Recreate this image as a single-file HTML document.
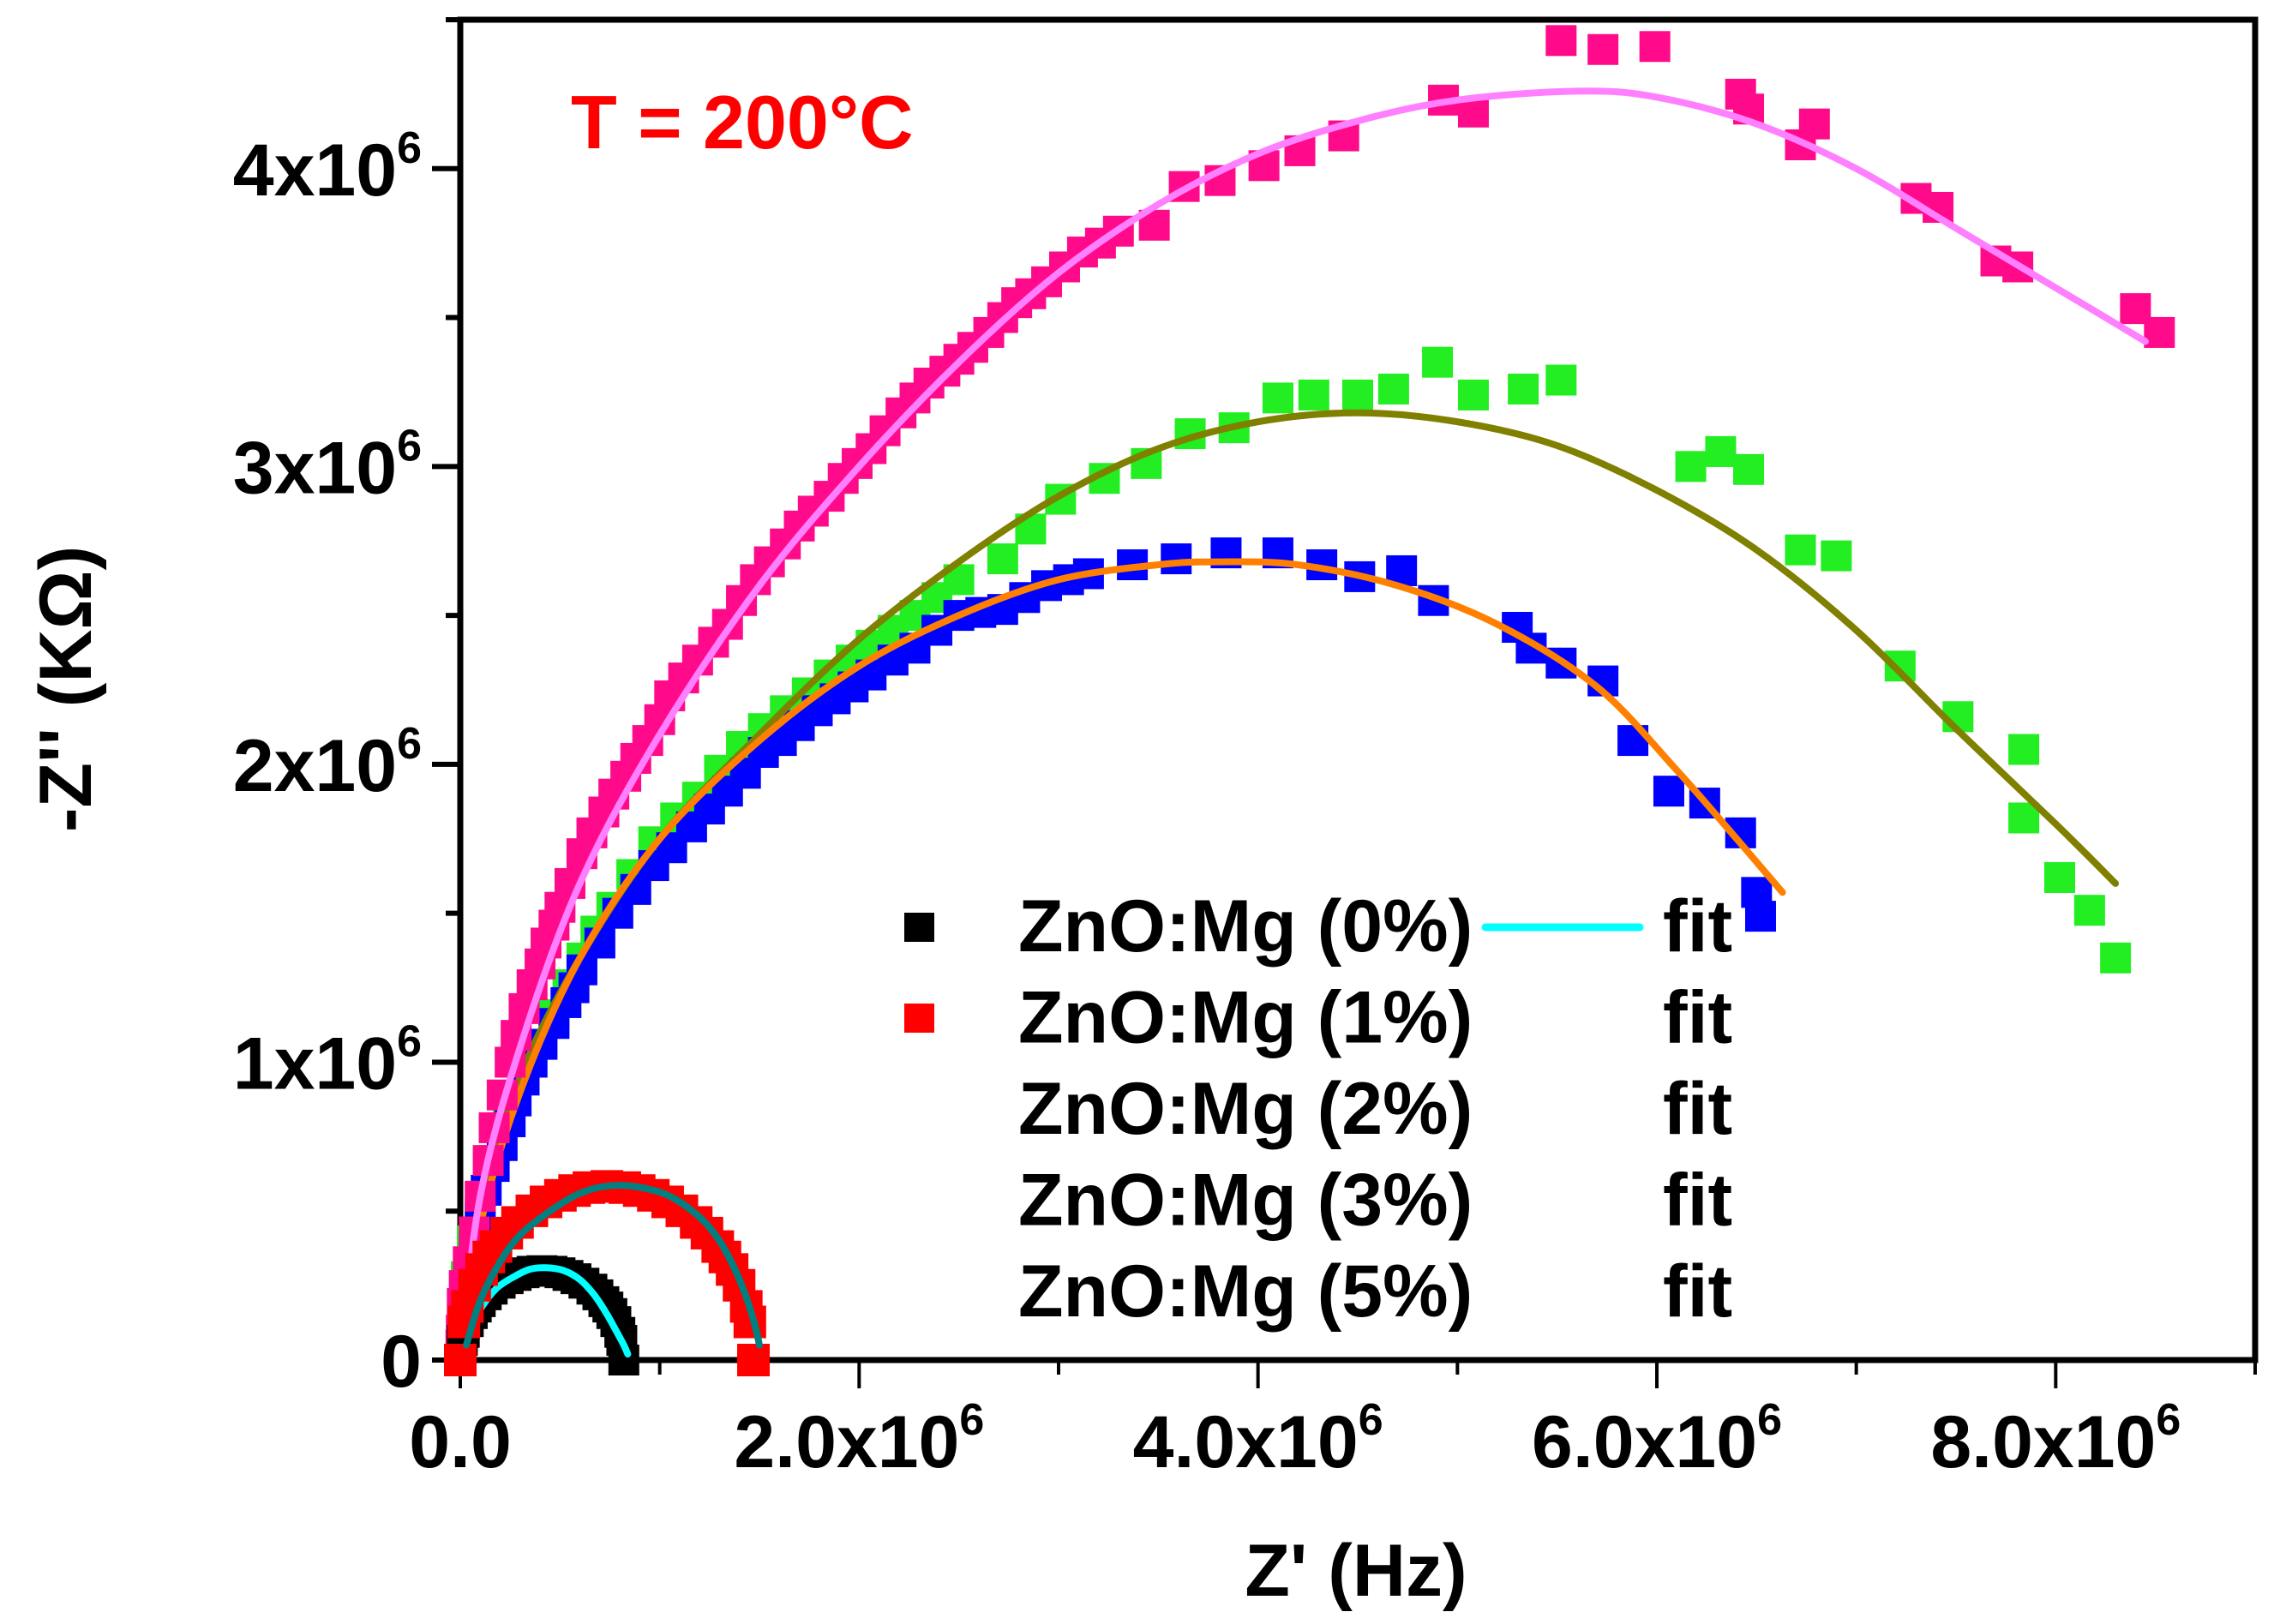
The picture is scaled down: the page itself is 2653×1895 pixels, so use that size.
<!DOCTYPE html>
<html><head><meta charset="utf-8"><style>
html,body{margin:0;padding:0;background:#fff;}
svg{display:block;font-family:"Liberation Sans",Arial,sans-serif;font-weight:bold;}
</style></head><body>
<svg id="chart" width="2653" height="1895" viewBox="0 0 2653 1895" xmlns="http://www.w3.org/2000/svg">
<g id="axes"></g>
<g id="series"></g>
<text x="666" y="173" font-size="88" fill="#ff0000">T = 200°C</text>
<text x="1582" y="1862" font-size="86" text-anchor="middle">Z' (Hz)</text>
<text x="0" y="0" font-size="86" text-anchor="middle" transform="translate(106,804) rotate(-90)">-Z'' (KΩ)</text>
<g id="legend"></g>
</svg>
<script>
const xTicks=[0,2,4,6,8];
const xTickLabels=["0.0","2.0x10","4.0x10","6.0x10","8.0x10"];
const yTicks=[0,1,2,3,4];
const yTickLabels=["0","1x10","2x10","3x10","4x10"];
const legendLabels=["ZnO:Mg (0%)","ZnO:Mg (1%)","ZnO:Mg (2%)","ZnO:Mg (3%)","ZnO:Mg (5%)"];

const black0X=[0,0.01,0.02,0.04,0.06,0.08,0.1,0.13,0.16,0.2,0.24,0.28,0.32,0.36,0.41,0.46,0.5,0.54,0.58,0.62,0.66,0.69,0.72,0.74,0.76,0.78,0.8,0.81,0.82];
const black0Y=[0,0.066,0.093,0.129,0.156,0.178,0.196,0.219,0.238,0.258,0.273,0.284,0.293,0.298,0.3,0.298,0.293,0.284,0.273,0.258,0.238,0.219,0.196,0.178,0.156,0.129,0.093,0.066,0];
const fit0X=[0.05,0.1,0.18,0.27,0.35,0.43,0.52,0.6,0.67,0.73,0.78,0.82,0.84];
const fit0Y=[0.1,0.17,0.24,0.28,0.305,0.31,0.3,0.27,0.22,0.16,0.1,0.05,0.02];

const red1X=[0,0.018,0.036,0.072,0.107,0.143,0.179,0.233,0.287,0.359,0.43,0.502,0.573,0.645,0.735,0.825,0.897,0.968,1.04,1.111,1.183,1.237,1.291,1.327,1.363,1.398,1.434,1.452,1.47];
const red1Y=[0,0.128,0.18,0.251,0.304,0.346,0.381,0.426,0.462,0.501,0.531,0.553,0.569,0.579,0.583,0.579,0.569,0.553,0.531,0.501,0.462,0.426,0.381,0.346,0.304,0.251,0.18,0.128,0];
const fit1X=[0.03,0.1,0.2,0.3,0.45,0.6,0.75,0.9,1.05,1.2,1.3,1.38,1.44,1.48,1.5];
const fit1Y=[0.05,0.2,0.33,0.42,0.5,0.56,0.585,0.58,0.55,0.48,0.4,0.3,0.2,0.11,0.05];

const green2X=[0.01,0.06,0.1,0.24,0.4,0.54,0.68,0.86,1.08,1.3,1.52,1.74,1.96,2.17,2.39,0.03,0.17,0.32,0.47,0.61,0.76,0.97,1.19,1.41,1.63,1.85,2.06,2.28,2.5,2.72,2.86,3.01,3.23,3.44,3.66,3.88,4.1,4.28,4.5,4.68,4.9,5.08,5.33,5.52,6.17,6.32,6.46,6.72,6.9,7.22,7.51,7.84,7.84,8.02,8.17,8.3];
const green2Y=[0.1,0.4,0.5,0.82,1.06,1.26,1.44,1.63,1.82,1.98,2.12,2.24,2.35,2.45,2.56,0.28,0.67,0.96,1.16,1.35,1.52,1.74,1.89,2.06,2.18,2.3,2.4,2.5,2.62,2.69,2.79,2.89,2.96,3.01,3.11,3.13,3.23,3.24,3.24,3.26,3.35,3.24,3.26,3.29,3.0,3.05,2.99,2.72,2.7,2.33,2.16,2.05,1.82,1.62,1.51,1.35];
const fit2X=[0,0.1,0.3,0.6,1.0,1.5,2.0,2.5,3.0,3.5,4.0,4.5,5.0,5.5,6.0,6.5,7.0,7.5,8.0,8.3];
const fit2Y=[0,0.5,0.95,1.35,1.75,2.1,2.42,2.68,2.9,3.06,3.15,3.18,3.15,3.07,2.92,2.72,2.45,2.12,1.8,1.6];

const blue3X=[0,0.01,0.02,0.05,0.07,0.13,0.17,0.25,0.28,0.36,0.41,0.53,0.57,0.7,0.88,1.06,1.25,1.43,1.61,1.79,1.97,2.17,2.39,2.61,2.83,3.05,0.03,0.1,0.21,0.32,0.47,0.61,0.79,0.97,1.16,1.34,1.52,1.7,1.88,2.06,2.28,2.5,2.72,2.94,3.15,3.37,3.59,3.84,4.1,4.32,4.51,4.72,4.88,5.3,5.37,5.52,5.73,5.88,6.06,6.24,6.42,6.5,6.52];
const blue3Y=[0,0.08,0.12,0.3,0.38,0.57,0.65,0.8,0.87,1.0,1.06,1.2,1.25,1.4,1.58,1.72,1.85,1.97,2.08,2.18,2.26,2.35,2.45,2.51,2.56,2.62,0.19,0.48,0.72,0.94,1.13,1.31,1.5,1.66,1.79,1.91,2.04,2.13,2.22,2.3,2.39,2.5,2.52,2.6,2.64,2.67,2.69,2.71,2.71,2.67,2.63,2.65,2.55,2.46,2.39,2.34,2.28,2.08,1.91,1.87,1.77,1.57,1.49];
const fit3X=[0,0.1,0.3,0.6,1.0,1.5,2.0,2.5,3.0,3.5,3.8,4.2,4.7,5.2,5.7,6.1,6.4,6.63];
const fit3Y=[0,0.45,0.9,1.35,1.75,2.08,2.33,2.5,2.62,2.67,2.68,2.67,2.6,2.47,2.26,1.98,1.75,1.57];

const pink5X=[0,0.003,0.005,0.02,0.04,0.1,0.17,0.25,0.32,0.4,0.47,0.55,0.66,0.77,0.88,1.0,1.12,1.27,1.41,1.55,1.7,1.85,1.99,2.13,2.28,2.43,2.57,2.72,2.86,3.03,3.21,0.01,0.07,0.14,0.21,0.28,0.36,0.43,0.5,0.61,0.72,0.83,0.94,1.05,1.19,1.34,1.48,1.63,1.77,1.92,2.06,2.21,2.35,2.5,2.65,2.79,2.94,3.12,3.3,3.48,3.63,3.81,4.03,4.21,4.43,4.93,5.08,5.52,5.73,5.99,6.42,6.46,6.72,6.79,7.3,7.41,7.7,7.81,8.4,8.52];
const pink5Y=[0,0.05,0.1,0.25,0.33,0.55,0.78,1.0,1.18,1.33,1.46,1.6,1.77,1.9,2.02,2.15,2.29,2.41,2.55,2.68,2.8,2.9,3.01,3.12,3.23,3.32,3.4,3.5,3.58,3.67,3.75,0.19,0.43,0.67,0.89,1.09,1.26,1.4,1.52,1.7,1.84,1.96,2.08,2.23,2.35,2.47,2.62,2.74,2.85,2.96,3.06,3.18,3.28,3.36,3.45,3.55,3.62,3.72,3.79,3.81,3.94,3.96,4.01,4.06,4.11,4.23,4.19,4.43,4.4,4.41,4.25,4.2,4.08,4.15,3.9,3.87,3.69,3.67,3.53,3.45];
const fit5X=[0,0.1,0.3,0.6,1.0,1.5,2.0,2.5,3.0,3.5,4.0,4.5,5.0,5.6,6.0,6.5,7.0,7.5,8.0,8.45];
const fit5Y=[0,0.55,1.05,1.6,2.1,2.6,3.0,3.35,3.65,3.88,4.05,4.16,4.23,4.26,4.24,4.15,4.0,3.8,3.6,3.42];

const NS="http://www.w3.org/2000/svg";
const L=537,R=2631,T=23,B=1587,XMIN=0,XMAX=9,YMIN=0,YMAX=4.5;
const sx=v=>L+(v-XMIN)/(XMAX-XMIN)*(R-L);
const sy=v=>B-(v-YMIN)/(YMAX-YMIN)*(B-T);
function mk(tag,attrs,parent){const e=document.createElementNS(NS,tag);for(const k in attrs)e.setAttribute(k,attrs[k]);parent.appendChild(e);return e;}
const axes=document.getElementById('axes');
const frame=mk('rect',{x:L,y:T,width:R-L,height:B-T,fill:'none',stroke:'#000','stroke-width':7},axes);


for(let v=0;v<=9;v+=1){const major=(v%2===0);
 const t=mk('line',{x1:sx(v),x2:sx(v),y1:B,y2:B+(major?33:17),stroke:'#000','stroke-width':4},axes);
 
 }
for(let v=0;v<=4.5;v+=0.5){const major=(v%1===0);
 const t=mk('line',{x1:L,x2:L-(major?33:17),y1:sy(v),y2:sy(v),stroke:'#000','stroke-width':6},axes);
 
 }
xTicks.forEach((v,i)=>{const t=mk('text',{x:sx(v),y:1712,'font-size':86,'text-anchor':'middle'},axes);
 t.textContent=xTickLabels[i];
 if(i>0){const s=mk('tspan',{dy:-38,'font-size':52},t);s.textContent='6';}
 
 });
yTicks.forEach((v,i)=>{const t=mk('text',{x:492,y:sy(v)+31,'font-size':86,'text-anchor':'end'},axes);
 t.textContent=yTickLabels[i];
 if(i>0){const s=mk('tspan',{dy:-38,'font-size':52},t);s.textContent='6';}
 
 });
const S=document.getElementById('series');
function markers(xs,ys,color,name,size){const g=mk('g',{fill:color},S);
 
 
 xs.forEach((x,i)=>{const r=mk('rect',{x:sx(x)-size/2,y:sy(ys[i])-size/2,width:size,height:size},g);
  
  });}
function line(xs,ys,color,name){
 const P=xs.map((x,i)=>[sx(x),sy(ys[i])]);
 let d='M'+P[0][0].toFixed(1)+','+P[0][1].toFixed(1);
 for(let i=0;i<P.length-1;i++){const p0=P[Math.max(0,i-1)],p1=P[i],p2=P[i+1],p3=P[Math.min(P.length-1,i+2)];
  const c1=[p1[0]+(p2[0]-p0[0])/6,p1[1]+(p2[1]-p0[1])/6],c2=[p2[0]-(p3[0]-p1[0])/6,p2[1]-(p3[1]-p1[1])/6];
  d+=' C'+c1.map(v=>v.toFixed(1)).join(',')+' '+c2.map(v=>v.toFixed(1)).join(',')+' '+p2[0].toFixed(1)+','+p2[1].toFixed(1);}
 const p=mk('path',{d:d,fill:'none',stroke:color,'stroke-width':8,'stroke-linejoin':'round','stroke-linecap':'round'},S);
 
 }
markers(green2X,green2Y,'#22ee22','series-2pct',36);
markers(blue3X,blue3Y,'#0000ff','series-3pct',36);
line(fit2X,fit2Y,'#808000','fit-2pct');
line(fit3X,fit3Y,'#ff8000','fit-3pct');
markers(pink5X,pink5Y,'#ff0a8a','series-5pct',36);
line(fit5X,fit5Y,'#ff80ff','fit-5pct');
markers(black0X,black0Y,'#000000','series-0pct',36);
line(fit0X,fit0Y,'#00ffff','fit-0pct');
markers(red1X,red1Y,'#ff0000','series-1pct',38);
line(fit1X,fit1Y,'#008080','fit-1pct');
const LG=document.getElementById('legend');
legendLabels.forEach((lab,i)=>{const y=1110+i*106.5;
 const t=mk('text',{x:1188,y:y,'font-size':86},LG);t.textContent=lab;
 
 
 const f=mk('text',{x:1940,y:y,'font-size':86},LG);f.textContent='fit';
 
 });
const m0=mk('rect',{x:1055,y:1065,width:35,height:34,fill:'#000'},LG);


const m1=mk('rect',{x:1055,y:1171,width:35,height:34,fill:'#ff0000'},LG);


const lc=mk('line',{x1:1733,x2:1913,y1:1082,y2:1082,stroke:'#00ffff','stroke-width':9,'stroke-linecap':'round'},LG);


</script>
</body></html>
